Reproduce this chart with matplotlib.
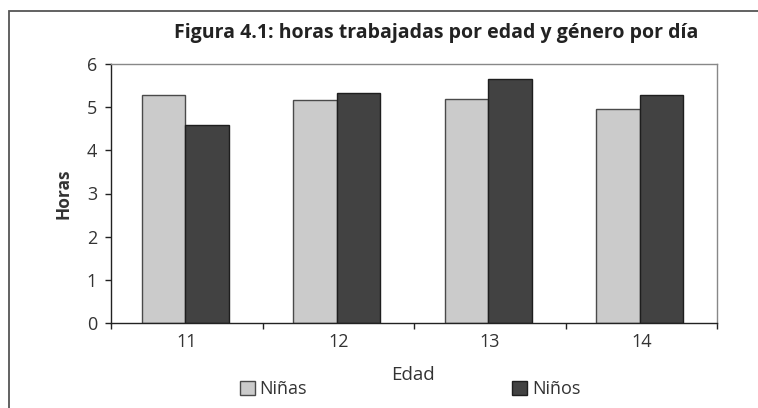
import matplotlib
matplotlib.use("Agg")
import matplotlib.pyplot as plt
import numpy as np
from matplotlib.patches import Rectangle

categories = ["11", "12", "13", "14"]
ninas = [5.28, 5.16, 5.20, 4.95]
ninos = [4.58, 5.32, 5.66, 5.28]
yticks = [0, 1, 2, 3, 4, 5, 6]

plt.rcParams['font.family'] = ['Open Sans', 'DejaVu Sans']
txt = '#333333'

W, H = 758, 408
fig = plt.figure(figsize=(W/100, H/100), dpi=100)

# outer frame (left and top visible)
fig.patches.append(Rectangle((9/W, -0.1), 1.2, (H-11)/H + 0.1, transform=fig.transFigure,
                             fill=False, edgecolor='#555555', linewidth=1.3))

ax = fig.add_axes([111/W, (H-323)/H, (717-111)/W, (323-64)/H])
x = np.arange(len(categories))
bw = 0.286
ax.bar(x - bw/2 - 0.01, ninas, bw, color='#CBCBCB', edgecolor='#4a4a4a', linewidth=1.0, label='Niñas')
ax.bar(x + bw/2 - 0.01, ninos, bw, color='#424242', edgecolor='#1e1e1e', linewidth=1.0, label='Niños')

ax.set_xlim(-0.5, len(categories) - 0.5)
ax.set_ylim(0, 6)
ax.set_yticks(yticks)
ax.set_yticklabels([str(v) for v in yticks], fontsize=13, color=txt)
ax.set_xticks(np.arange(len(categories) + 1) - 0.5)
ax.set_xticklabels([])
ax.set_xticks(x, minor=True)
ax.set_xticklabels(categories, minor=True, fontsize=13, color=txt)
ax.tick_params(axis='x', which='major', direction='out', length=4, width=1, color='#222222')
ax.tick_params(axis='x', which='minor', length=0, pad=7)
ax.tick_params(axis='y', direction='out', length=4, width=1, color='#222222', pad=6)

for s in ['left', 'bottom']:
    ax.spines[s].set_color('#222222')
    ax.spines[s].set_linewidth(1.0)
for s in ['top', 'right']:
    ax.spines[s].set_color('#888888')
    ax.spines[s].set_linewidth(1.0)

ax.set_ylabel('Horas', fontsize=12.5, fontweight='bold', color=txt, labelpad=10)
fig.text(413/W, 1 - 375/H, 'Edad', ha='center', va='center', fontsize=13.5, color=txt)
fig.text(436/W, 1 - 33/H, 'Figura 4.1: horas trabajadas por edad y género por día',
         ha='center', va='center', fontsize=14, fontweight='bold', color='#222222')

leg = fig.legend(loc='center left', bbox_to_anchor=(236/W, 1 - 389/H), ncol=2,
                 frameon=False, fontsize=13, handlelength=0.85, handleheight=0.85,
                 handletextpad=0.25, columnspacing=11.35, borderaxespad=0, borderpad=0.2)
for t in leg.get_texts():
    t.set_color(txt)

fig.savefig('out.png', dpi=100)
